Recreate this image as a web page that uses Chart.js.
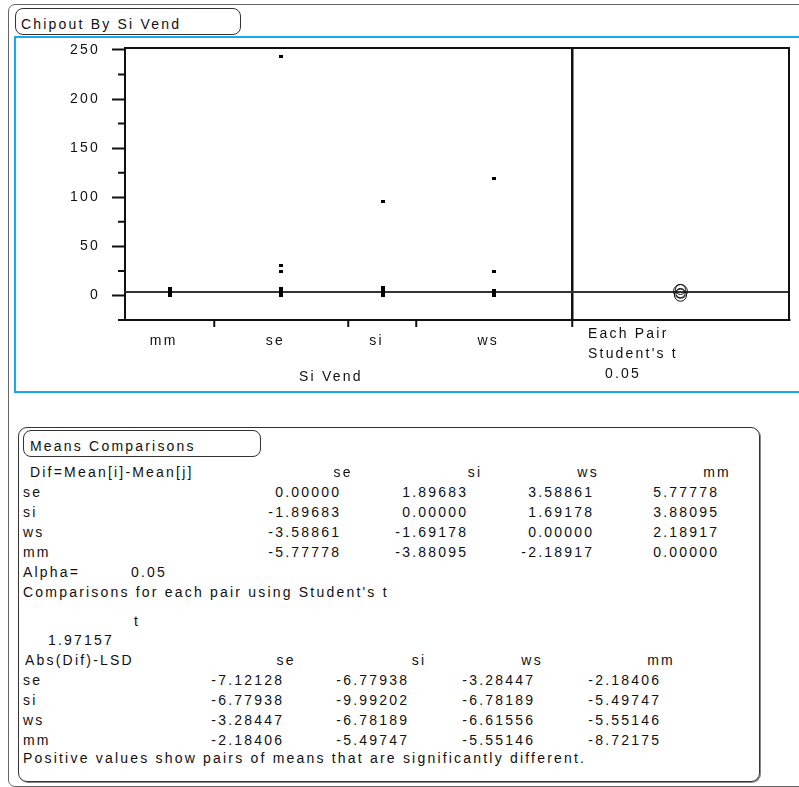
<!DOCTYPE html>
<html>
<head>
<meta charset="utf-8">
<script src="https://cdn.jsdelivr.net/npm/chart.js@4/dist/chart.umd.min.js"></script>
<style>
    body { margin: 0; background: #fff; overflow: hidden; }
    #page { position: relative; width: 799px; height: 787px; overflow: hidden;
        font-family: "Liberation Sans", Arial, sans-serif; font-size: 14px; color: #111; letter-spacing: 2.2px; }
    .txt { position: absolute; white-space: pre; line-height: 14px; }
    .box { position: absolute; border: 1px solid #333; }
    #chart { position: absolute; left: 16px; top: 38px; }
</style>
</head>
<body>
<div id="page">
    <div class="box" style="left:8px; top:4px; width:830px; height:781px; border-color:#666; border-radius:7px;"></div>
    <div class="box" style="left:15px; top:8px; width:224px; height:25px; border-radius:8px;"></div>
    <div class="box" style="left:14px; top:36px; width:830px; height:353px; border:2px solid #1aa8e8;"></div>
    <canvas id="chart" width="783" height="352"></canvas>
    <div class="box" style="left:18px; top:427px; width:740px; height:353px; border-radius:9px; box-shadow:1px 1px 0 #888;"></div>
    <div class="box" style="left:23px; top:430px; width:236px; height:25px; border-radius:8px;"></div>
</div>

<script>
// groups along the x axis, widths follow the group sizes
const groups = ["mm", "se", "si", "ws"];
const groupN = [42, 63, 32, 73];
const panelWidth = 102;

// chipout values that show in each column
const mmValues = [0, 1, 2, 3, 4, 5, 6, 7];
const seValues = [0, 1, 2, 3, 4, 5, 6, 7, 24, 30, 243];
const siValues = [0, 1, 2, 3, 4, 5, 6, 7, 8, 96];
const wsValues = [0, 1, 2, 3, 4, 5, 24, 119];

const grandMean = 3.4;
const groupMeans = [0.3, 6.08, 4.18, 2.49];
const circleRadius = [6.17, 5.04, 7.07, 4.68];

const yMajorTicks = [0, 50, 100, 150, 200, 250];
const yMinorTicks = [-25, 25, 75, 125, 175, 225];

// means comparisons report
const colNames = ["se", "si", "ws", "mm"];
const rowNames = ["se", "si", "ws", "mm"];
const difRows = [
    ["0.00000", "1.89683", "3.58861", "5.77778"],
    ["-1.89683", "0.00000", "1.69178", "3.88095"],
    ["-3.58861", "-1.69178", "0.00000", "2.18917"],
    ["-5.77778", "-3.88095", "-2.18917", "0.00000"],
];
const alpha = "0.05";
const tValue = "1.97157";
const lsdRows = [
    ["-7.12128", "-6.77938", "-3.28447", "-2.18406"],
    ["-6.77938", "-9.99202", "-6.78189", "-5.49747"],
    ["-3.28447", "-6.78189", "-6.61556", "-5.55146"],
    ["-2.18406", "-5.49747", "-5.55146", "-8.72175"],
];

const SPACING = 2.2;
const page = document.getElementById("page");

function put(text, x, baseline, align) {
    const el = document.createElement("div");
    el.className = "txt";
    el.textContent = text;
    el.style.top = (baseline - 12) + "px";
    if (align === "right") {
        el.style.right = (799 - x - SPACING) + "px";
    } else if (align === "center") {
        el.style.left = (x + SPACING / 2) + "px";
        el.style.transform = "translateX(-50%)";
    } else {
        el.style.left = x + "px";
    }
    page.appendChild(el);
}

put("Chipout By Si Vend", 21, 29);
put("Si Vend", 299, 381);
put("Each Pair", 588, 338);
put("Student's t", 588, 358);
put(alpha, 605, 378);

put("Means Comparisons", 30, 451);
put("Dif=Mean[i]-Mean[j]", 30, 477);
const difHead = [342, 474, 587, 716];
const difRight = [339, 466, 592, 717];
colNames.forEach((c, i) => put(c, difHead[i], 477, "center"));
rowNames.forEach((r, j) => {
    put(r, 23, 497 + j * 20);
    difRows[j].forEach((v, i) => put(v, difRight[i], 497 + j * 20, "right"));
});

put("Alpha=", 23, 577);
put(alpha, 131, 577);
put("Comparisons for each pair using Student's t", 23, 597);
put("t", 134, 626);
put(tValue, 48, 645);
put("Abs(Dif)-LSD", 25, 665);
const lsdHead = [285, 418, 531, 660];
const lsdRight = [282, 407, 533, 659];
colNames.forEach((c, i) => put(c, lsdHead[i], 665, "center"));
rowNames.forEach((r, j) => {
    put(r, 23, 685 + j * 20);
    lsdRows[j].forEach((v, i) => put(v, lsdRight[i], 685 + j * 20, "right"));
});
put("Positive values show pairs of means that are significantly different.", 23, 763);

// x positions of the groups
const bounds = [];
const centers = [];
let acc = 0;
groupN.forEach(n => {
    centers.push(acc + n / 2);
    acc += n;
    bounds.push(acc);
});
const totalN = acc;
const xMax = totalN + panelWidth;

const dot = document.createElement("canvas");
dot.width = 4;
dot.height = 3;
dot.getContext("2d").fillRect(0, 0, 4, 3);

const groupValues = [mmValues, seValues, siValues, wsValues];

const datasets = [{
    type: "line",
    data: [{ x: 0, y: grandMean }, { x: xMax, y: grandMean }],
    borderColor: "#333",
    borderWidth: 2,
    pointRadius: 0,
    order: 3,
}];

groupValues.forEach((vals, i) => {
    datasets.push({
        data: vals.map(v => ({ x: centers[i], y: v })),
        pointStyle: dot,
        order: 1,
    });
});

datasets.push({
    data: groupMeans.map(m => ({ x: totalN + panelWidth / 2, y: m })),
    pointStyle: "circle",
    backgroundColor: "transparent",
    borderColor: "#111",
    borderWidth: 1,
    radius: ctx => {
        const s = ctx.chart.scales.y;
        return Math.abs(s.getPixelForValue(0) - s.getPixelForValue(circleRadius[ctx.dataIndex]));
    },
    order: 0,
});

const framePlugin = {
    id: "frame",
    beforeDraw(chart) {
        chart.ctx.letterSpacing = SPACING + "px";
    },
    afterDraw(chart) {
        const { ctx, chartArea } = chart;
        const y = chart.scales.y;
        ctx.save();
        ctx.strokeStyle = "#111";
        ctx.lineWidth = 2;
        ctx.beginPath();
        ctx.moveTo(chartArea.left, chartArea.top);
        ctx.lineTo(chartArea.right, chartArea.top);
        ctx.lineTo(chartArea.right, chartArea.bottom);
        ctx.stroke();
        ctx.beginPath();
        yMinorTicks.forEach(v => {
            const py = y.getPixelForValue(v);
            ctx.moveTo(chartArea.left - 7, py);
            ctx.lineTo(chartArea.left, py);
        });
        ctx.stroke();
        ctx.restore();
    },
};

const tickFont = { family: "'Liberation Sans', Arial, sans-serif", size: 14 };

new Chart(document.getElementById("chart"), {
    type: "scatter",
    data: { datasets },
    options: {
        responsive: false,
        animation: false,
        devicePixelRatio: 1,
        layout: { padding: { top: 10, right: 10, left: 0, bottom: 0 } },
        plugins: { legend: { display: false }, tooltip: { enabled: false } },
        scales: {
            x: {
                type: "linear",
                min: 0,
                max: xMax,
                afterBuildTicks: s => {
                    s.ticks = bounds.concat(centers).sort((a, b) => a - b).map(v => ({ value: v }));
                },
                afterFit: s => {
                    s.height = 70;
                    s.paddingLeft = 0;
                    s.paddingRight = 0;
                },
                border: { color: "#111", width: 2 },
                grid: {
                    color: ctx => ctx.tick && ctx.tick.value === totalN ? "#111" : "transparent",
                    lineWidth: 2.5,
                    tickColor: ctx => ctx.tick && bounds.includes(ctx.tick.value) ? "#111" : "transparent",
                    tickLength: 7,
                    tickWidth: 2,
                },
                ticks: {
                    autoSkip: false,
                    maxRotation: 0,
                    padding: 6,
                    labelOffset: -6,
                    color: "#111",
                    font: tickFont,
                    callback: v => {
                        const i = centers.indexOf(v);
                        return i >= 0 ? groups[i] : "";
                    },
                },
            },
            y: {
                min: -25,
                max: 252,
                afterBuildTicks: s => {
                    s.ticks = yMajorTicks.map(v => ({ value: v }));
                },
                afterFit: s => {
                    s.width = 109;
                    s.paddingTop = 0;
                    s.paddingBottom = 0;
                },
                border: { color: "#111", width: 2 },
                grid: {
                    drawOnChartArea: false,
                    color: "#111",
                    tickLength: 13,
                    tickWidth: 2,
                },
                ticks: {
                    padding: 12,
                    color: "#111",
                    font: tickFont,
                },
            },
        },
    },
    plugins: [framePlugin],
});
</script>
</body>
</html>
